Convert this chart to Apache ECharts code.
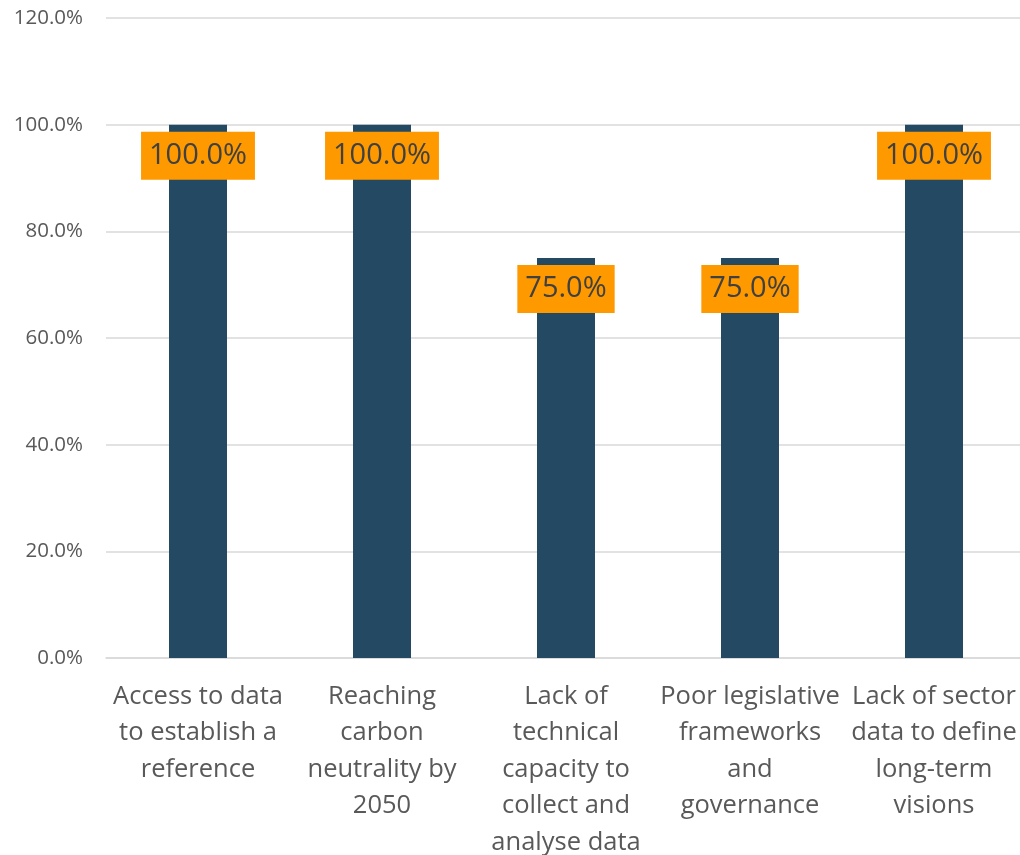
<!DOCTYPE html>
<html>
<head>
<meta charset="utf-8">
<script src="https://cdn.jsdelivr.net/npm/echarts@6/dist/echarts.min.js"></script>
<style>
  html, body { margin: 0; padding: 0; background: #ffffff; }
  #chart { width: 1020px; height: 855px; }
</style>
</head>
<body>
<div id="chart"></div>
<script>
// Barrier categories (line breaks as shown under the axis)
const categories = [
  'Access to data\nto establish a\nreference',
  'Reaching\ncarbon\nneutrality by\n2050',
  'Lack of\ntechnical\ncapacity to\ncollect and\nanalyse data',
  'Poor legislative\nframeworks\nand\ngovernance',
  'Lack of sector\ndata to define\nlong-term\nvisions'
];
// Share of respondents, in percent
const shares = [100, 100, 75, 75, 100];
// Value axis ticks (percent)
const yMin = 0;
const yMax = 120;
const yStep = 20;

const font = '"Open Sans", "Noto Sans", sans-serif';
const chart = echarts.init(document.getElementById('chart'), null, { renderer: 'canvas' });

chart.setOption({
  animation: false,
  backgroundColor: '#ffffff',
  grid: {
    left: 106, right: -6, top: 18, bottom: 197,
    containLabel: false,
    outerBoundsMode: 'none'
  },
  xAxis: {
    type: 'category',
    data: categories,
    axisLine: { show: true, lineStyle: { color: '#d9d9d9', width: 1.5 } },
    axisTick: { show: false },
    axisLabel: {
      interval: 0,
      margin: 20,
      color: '#595959',
      fontFamily: font,
      fontSize: 25.5,
      lineHeight: 36.5,
      align: 'center'
    }
  },
  yAxis: {
    type: 'value',
    min: yMin,
    max: yMax,
    interval: yStep,
    axisLine: { show: false },
    axisTick: { show: false },
    splitLine: { lineStyle: { color: '#d9d9d9', width: 1.5 } },
    axisLabel: {
      margin: 23,
      color: '#595959',
      fontFamily: font,
      fontSize: 20.5,
      formatter: v => v.toFixed(1) + '%'
    }
  },
  series: [{
    type: 'bar',
    data: shares,
    barWidth: 58,
    itemStyle: { color: '#234a62' },
    label: {
      show: true,
      position: 'insideTop',
      distance: 7,
      formatter: p => p.value.toFixed(1) + '%',
      color: '#404040',
      fontFamily: font,
      fontSize: 29,
      lineHeight: 34,
      backgroundColor: '#ff9900',
      padding: [7, 8, 7, 8]
    }
  }]
});
</script>
</body>
</html>
